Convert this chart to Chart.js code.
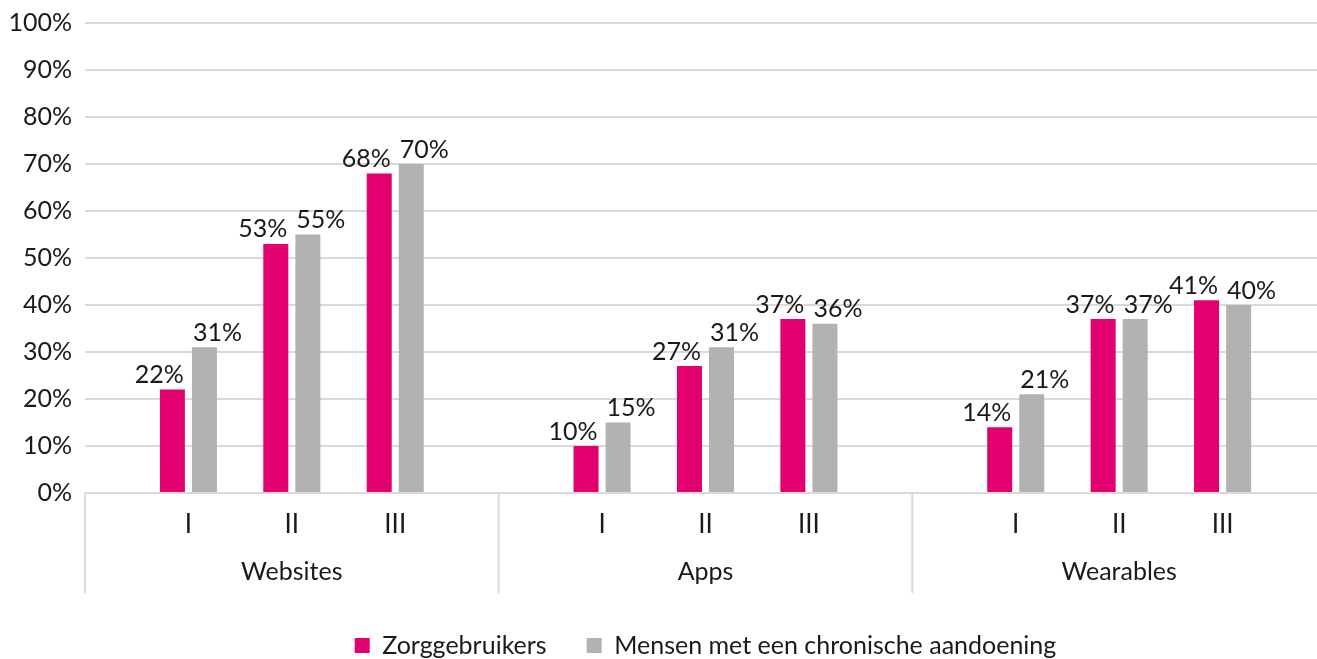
<!DOCTYPE html>
<html>
<head>
<meta charset="utf-8">
<script src="https://cdn.jsdelivr.net/npm/chart.js@4"></script>
<style>
  html, body { margin: 0; padding: 0; overflow: hidden; background: #fff; }
  canvas { display: block; }
</style>
</head>
<body>
<canvas id="chart" width="1326" height="659"></canvas>
<script>
const groups = ['Websites', 'Apps', 'Wearables'];
const subLabels = ['I', 'II', 'III'];
const zorggebruikers = [22, 53, 68, 10, 27, 37, 14, 37, 41];
const chronisch = [31, 55, 70, 15, 31, 36, 21, 37, 40];
const yTicks = [0, 10, 20, 30, 40, 50, 60, 70, 80, 90, 100];

const PINK = '#E2006F';
const GREY = '#B2B2B2';
const TEXT = '#1a1a1a';
const FONT = 'Lato';

// each group gets a blank slot at its left edge, plus one at the very end
function slotted(values) {
    const out = [];
    groups.forEach((g, gi) => {
        out.push(null);
        subLabels.forEach((s, si) => out.push(values[gi * subLabels.length + si]));
    });
    out.push(null);
    return out;
}
const labels = slotted(subLabels.concat(subLabels, subLabels)).map(l => l || '');

const groupPlugin = {
    id: 'groups',
    afterDraw(chart) {
        const ctx = chart.ctx;
        const x = chart.scales.x;
        const area = chart.chartArea;
        ctx.save();
        ctx.strokeStyle = '#d9d9d9';
        ctx.lineWidth = 2;
        for (let i = 0; i <= groups.length; i++) {
            const px = x.getPixelForValue(i * 4);
            ctx.beginPath();
            ctx.moveTo(px, area.bottom);
            ctx.lineTo(px, area.bottom + 100);
            ctx.stroke();
        }
        ctx.fillStyle = TEXT;
        ctx.font = '25px ' + FONT;
        ctx.textAlign = 'center';
        ctx.textBaseline = 'middle';
        groups.forEach((g, i) => {
            const mid = (x.getPixelForValue(i * 4) + x.getPixelForValue(i * 4 + 4)) / 2;
            ctx.fillText(g, mid, area.bottom + 79);
        });
        ctx.restore();
    }
};

const valuePlugin = {
    id: 'values',
    afterDatasetsDraw(chart) {
        const ctx = chart.ctx;
        ctx.save();
        ctx.fillStyle = TEXT;
        ctx.font = '25px ' + FONT;
        ctx.textAlign = 'center';
        ctx.textBaseline = 'bottom';
        chart.data.datasets.forEach((ds, di) => {
            const shift = di === 0 ? -13 : 13;
            chart.getDatasetMeta(di).data.forEach((bar, i) => {
                if (ds.data[i] == null) return;
                ctx.fillText(ds.data[i] + '%', bar.x + shift, bar.y - 2);
            });
        });
        ctx.restore();
    }
};

new Chart(document.getElementById('chart'), {
    type: 'bar',
    data: {
        labels: labels,
        datasets: [
            { label: 'Zorggebruikers', data: slotted(zorggebruikers), backgroundColor: PINK },
            { label: 'Mensen met een chronische aandoening', data: slotted(chronisch), backgroundColor: GREY }
        ]
    },
    options: {
        responsive: false,
        animation: false,
        categoryPercentage: 0.62,
        barPercentage: 0.78,
        layout: { padding: { top: 0, right: 0, bottom: -9, left: 0 } },
        plugins: {
            legend: {
                position: 'bottom',
                fullSize: false,
                labels: {
                    color: TEXT,
                    font: { family: FONT, size: 25 },
                    boxWidth: 15,
                    boxHeight: 15,
                    padding: 40
                }
            },
            tooltip: { enabled: false }
        },
        scales: {
            x: {
                offset: false,
                grid: { drawOnChartArea: false, drawTicks: true, tickLength: 16, tickColor: 'rgba(0,0,0,0)' },
                border: { display: false },
                ticks: {
                    color: TEXT,
                    font: { family: FONT, size: 26 },
                    autoSkip: false,
                    maxRotation: 0,
                    padding: 0
                },
                afterFit(scale) { scale.height = 100; }
            },
            y: {
                min: 0,
                max: 100,
                afterBuildTicks(scale) { scale.ticks = yTicks.map(v => ({ value: v })); },
                grid: { color: '#d9d9d9', lineWidth: 2, drawTicks: true, tickLength: 5, tickColor: 'rgba(0,0,0,0)' },
                border: { display: false },
                ticks: {
                    color: TEXT,
                    font: { family: FONT, size: 25 },
                    padding: 8,
                    callback: v => v + '%'
                },
                afterFit(scale) { scale.width = 85; }
            }
        }
    },
    plugins: [groupPlugin, valuePlugin]
});
</script>
</body>
</html>
